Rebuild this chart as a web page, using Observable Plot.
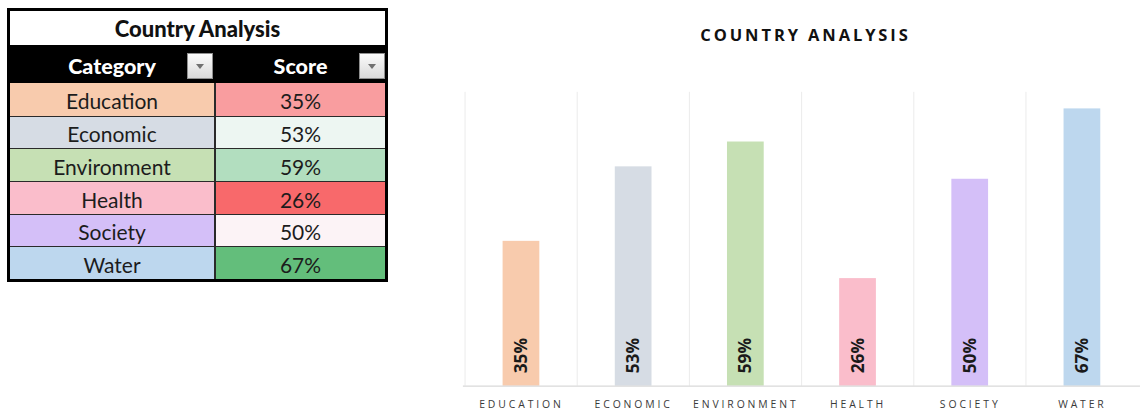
<!DOCTYPE html>
<html>
<head>
<meta charset="utf-8">
<script src="https://cdn.jsdelivr.net/npm/d3@7"></script>
<script src="https://cdn.jsdelivr.net/npm/@observablehq/plot@0.6"></script>
<style>
  html, body { margin: 0; padding: 0; width: 1140px; height: 412px; overflow: hidden; background: #fff; }
  #tbl { position: absolute; left: 7px; top: 8px; width: 381px; height: 274px; box-sizing: border-box;
         border: 3px solid #000; font-family: Lato, "Noto Sans", sans-serif; background: #fff; }
  #tbl .c { position: absolute; box-sizing: border-box; display: flex; align-items: center; justify-content: center; }
  #tbl .title { font-weight: 900; font-size: 22px; color: #111; padding-top: 1px; }
  #tbl .head { background: #000; color: #fff; font-weight: 900; font-size: 21.5px; padding-top: 3px; }
  #tbl .cell { font-size: 21px; color: #1c1c1c; padding-top: 3px; }
  #tbl .btn { position: absolute; width: 26px; height: 26px; box-sizing: border-box; border: 1px solid #8f8f8f;
              background: linear-gradient(#fbfbfb, #d9d9d9); }
  #tbl .btn::after { content: ""; position: absolute; left: 8px; top: 10px; border-left: 4.5px solid transparent;
              border-right: 4.5px solid transparent; border-top: 5px solid #707070; }
  #title { position: absolute; left: 463px; width: 682px; top: 24px; line-height: 22px; text-align: center;
           font-family: "Open Sans", sans-serif; font-weight: bold; font-size: 16.5px; letter-spacing: 2.9px;
           padding-left: 3px; box-sizing: border-box; color: #111; }
  #chart { position: absolute; left: 445px; top: 70px; }
  #chart g[aria-label="x-axis tick label"] text { letter-spacing: 2.9px; }
</style>
</head>
<body>
<div id="tbl"></div>
<div id="title">COUNTRY ANALYSIS</div>
<div id="chart"></div>
<script>
// ---- data ----
const tableTitle = "Country Analysis";
const chartTitle = "COUNTRY ANALYSIS";
const headers = ["Category", "Score"];
const categories = ["Education", "Economic", "Environment", "Health", "Society", "Water"];
const scores = [0.35, 0.53, 0.59, 0.26, 0.50, 0.67];
const categoryColors = ["#F8CBAD", "#D6DCE4", "#C6E0B4", "#FABDCB", "#D4BFF8", "#BDD7EE"];

const fmt = d3.format(".0%");
const data = categories.map((c, i) => ({ category: c, score: scores[i] }));

// ---- table (spreadsheet with 3-colour conditional formatting) ----
const heat = d3.scaleLinear()
  .domain([d3.min(scores), d3.median(scores), d3.max(scores)])
  .range(["#F8696B", "#FCFCFF", "#63BE7B"]);
const tbl = document.getElementById("tbl");
const innerW = 375, colL = 204, sep = 2, colR = innerW - colL - sep;
const titleH = 34, headH = 38, rowH = (268 - titleH - headH) / categories.length;
function cell(cls, left, top, w, h, text, bg) {
  const d = document.createElement("div");
  d.className = "c " + cls;
  Object.assign(d.style, { left: left + "px", top: top + "px", width: w + "px", height: h + "px" });
  if (bg) d.style.background = bg;
  d.textContent = text;
  tbl.appendChild(d);
  return d;
}
cell("title", 0, 0, innerW, titleH, tableTitle);
cell("head", 0, titleH, innerW, headH, "");
cell("head", 0, titleH, colL, headH, headers[0]);
cell("head", colL + sep, titleH, colR, headH, headers[1]);
[colL - 27, innerW - 26].forEach(l => {
  const b = document.createElement("div");
  b.className = "btn";
  b.style.left = l + "px"; b.style.top = (titleH + 8) + "px";
  tbl.appendChild(b);
});
// grid background (lines)
cell("", 0, titleH + headH, innerW, 268 - titleH - headH, "", "#2a2a2a");
categories.forEach((c, i) => {
  const top = titleH + headH + i * rowH;
  const t = i === 0 ? top : top + 1;
  const h = i === 0 ? rowH : rowH - 1;
  cell("cell", 0, t, colL, h, c, categoryColors[i]);
  cell("cell", colL + sep, t, colR, h, fmt(scores[i]), heat(scores[i]));
});

// ---- bar chart ----
const W = 700, ML = 18, MR = 0, yMax = 0.71;
const step = (W - ML - MR) / categories.length;
const chart = Plot.plot({
  width: W, height: 342, marginTop: 22, marginBottom: 24, marginLeft: ML, marginRight: MR,
  style: { fontFamily: "'Open Sans', sans-serif", fontSize: "10.5px", color: "#3a3a3a", background: "transparent", overflow: "visible" },
  x: { domain: categories, padding: 0, tickSize: 0, tickPadding: 14, tickFormat: d => d.toUpperCase(), label: null },
  y: { domain: [0, yMax], axis: null },
  color: { domain: categories, range: categoryColors },
  marks: [
    Plot.ruleX(categories, { x: d => d, dx: -step / 2, y1: 0, y2: yMax, stroke: "#ebebeb", strokeWidth: 1 }),
    Plot.barY(data, { x: "category", y: "score", fill: "category", insetLeft: 38, insetRight: 38 }),
    Plot.ruleY([0], { stroke: "#d9d9d9", strokeWidth: 1.2 }),
    Plot.text(data, { x: "category", y: 0, text: d => fmt(d.score), rotate: -90, textAnchor: "start",
                      dy: -13, fontWeight: "bold", fontSize: 17.5, fill: "#1a1a1a" })
  ]
});
document.getElementById("chart").appendChild(chart);
</script>
</body>
</html>
